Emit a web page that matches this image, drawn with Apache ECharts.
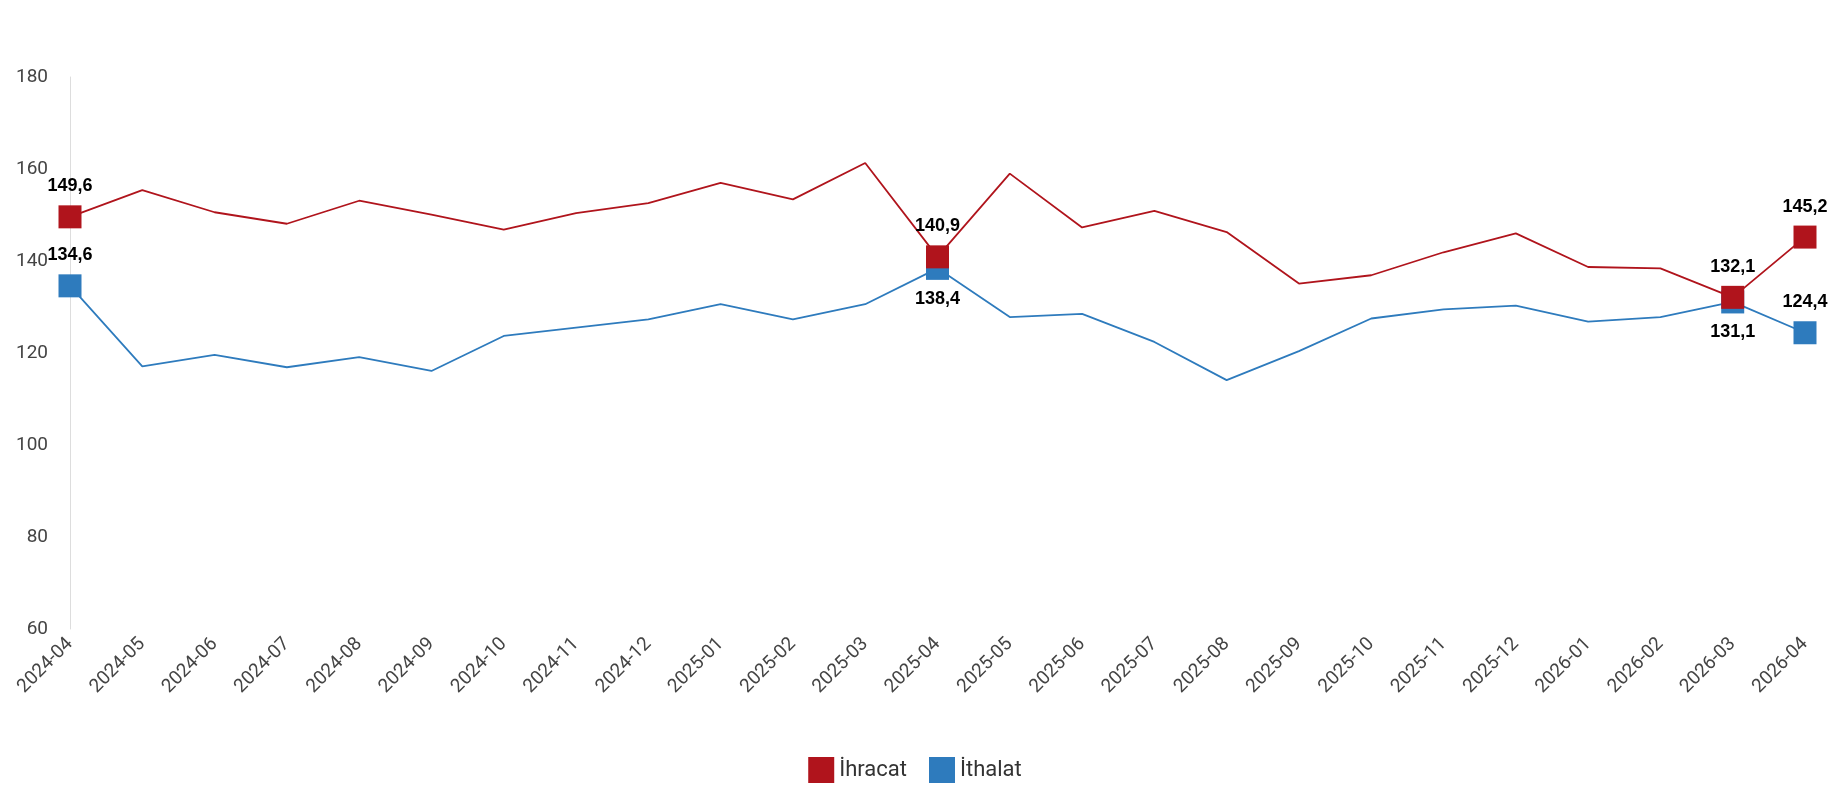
<!DOCTYPE html><html><head><meta charset="utf-8"><script src="https://cdn.jsdelivr.net/npm/echarts@6/dist/echarts.min.js"></script>
<style>html,body{margin:0;padding:0;background:#fff}#c{width:1830px;height:800px}</style></head><body><div id="c"></div><script>
const categories=['2024-04','2024-05','2024-06','2024-07','2024-08','2024-09','2024-10','2024-11','2024-12','2025-01','2025-02','2025-03','2025-04','2025-05','2025-06','2025-07','2025-08','2025-09','2025-10','2025-11','2025-12','2026-01','2026-02','2026-03','2026-04'];
const ihracat=[149.6,155.4,150.6,148.1,153.1,150.1,146.8,150.4,152.6,157.0,153.4,161.3,140.9,159.0,147.3,150.9,146.3,135.1,136.9,141.9,146.0,138.7,138.4,132.1,145.2];
const ithalat=[134.6,117.1,119.6,116.9,119.1,116.1,123.7,125.5,127.3,130.6,127.3,130.6,138.4,127.8,128.5,122.4,114.1,120.4,127.5,129.5,130.3,126.8,127.8,131.1,124.4];
const marked=[0,12,23,24];
const blueBelow=[12,23];
function build(arr,color,isBlue){return arr.map((v,i)=>{if(!marked.includes(i))return {value:v,symbol:'none'};
 return {value:v,symbol:'rect',symbolSize:23,itemStyle:{color},label:{show:true,position:(isBlue&&blueBelow.includes(i))?'bottom':'top',distance:10,formatter:p=>p.value.toFixed(1).replace('.',','),color:'#000',fontWeight:'bold',fontSize:18,fontFamily:'Liberation Sans'}};});}
const ch=echarts.init(document.getElementById('c'));
ch.setOption({animation:false,
grid:{left:70,right:25,top:77,bottom:171},
legend:{bottom:12,itemWidth:26,itemHeight:26,itemGap:22,icon:'rect',textStyle:{fontSize:22,color:'#333',fontFamily:'Roboto'},data:['İhracat','İthalat']},
xAxis:{type:'category',boundaryGap:false,data:categories,axisLine:{show:false},axisTick:{show:false},axisLabel:{rotate:45,fontSize:19,color:'#444',fontFamily:'Roboto',margin:12,interval:0}},
yAxis:{type:'value',min:60,max:180,interval:20,axisLine:{show:true,lineStyle:{color:'#ddd'}},splitLine:{show:false},axisLabel:{fontSize:19,color:'#444',fontFamily:'Roboto',margin:22}},
series:[{name:'İhracat',type:'line',color:'#b0141c',lineStyle:{width:1.8,color:'#b0141c'},data:build(ihracat,'#b0141c',false),z:3},
{name:'İthalat',type:'line',color:'#2e7bbd',lineStyle:{width:1.8,color:'#2e7bbd'},data:build(ithalat,'#2e7bbd',true),z:2}]});
</script></body></html>
